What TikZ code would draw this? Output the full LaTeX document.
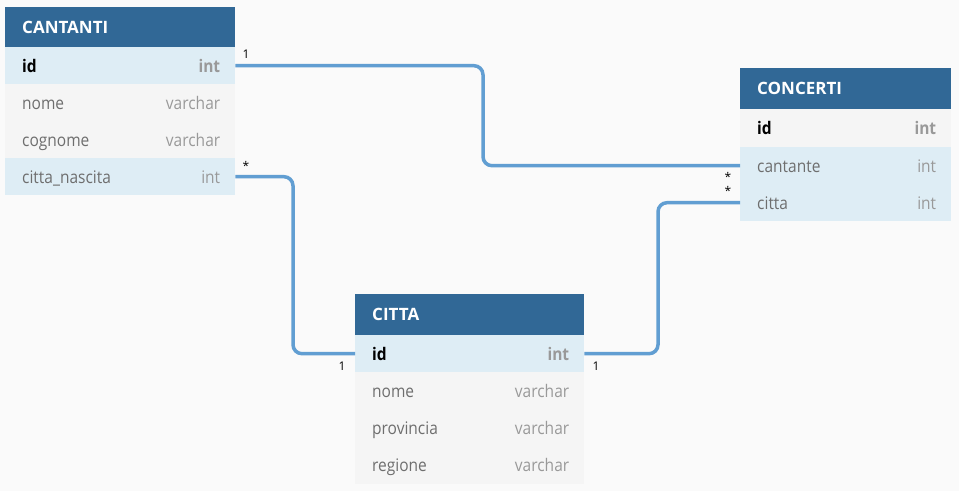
\documentclass[tikz,border=0pt]{standalone}
\usepackage{fontspec}
\setmainfont{Open Sans}
\definecolor{bg}{HTML}{FAFAFA}
\definecolor{hdrc}{HTML}{316896}
\definecolor{rowblue}{HTML}{DEEDF5}
\definecolor{rowgray}{HTML}{F5F5F5}
\definecolor{connc}{HTML}{619ED2}
\definecolor{namec}{HTML}{6E6E6E}
\definecolor{typec}{HTML}{999999}
\newcommand{\tl}[1]{\scalebox{1}[1.12]{#1}}
\begin{document}
\begin{tikzpicture}[x=1pt,y=-1pt,
  hdr/.style={fill=hdrc, draw=none, minimum height=40pt, anchor=north west, inner sep=0pt},
  rb/.style={fill=rowblue, draw=none, minimum height=37pt, anchor=north west, inner sep=0pt},
  rg/.style={fill=rowgray, draw=none, minimum height=37pt, anchor=north west, inner sep=0pt},
  htxt/.style={anchor=base west, text=white, font=\fontsize{17}{20}\selectfont\bfseries, inner sep=0pt},
  nm/.style={anchor=base west, text=namec, font=\fontsize{15.5}{18}\selectfont, inner sep=0pt},
  nmk/.style={anchor=base west, text=black, font=\fontsize{15.5}{18}\selectfont\bfseries, inner sep=0pt},
  ty/.style={anchor=base east, text=typec, font=\fontsize{15.5}{18}\selectfont, inner sep=0pt},
  tyk/.style={anchor=base east, text=typec, font=\fontsize{15.5}{18}\selectfont\bfseries, inner sep=0pt},
  card/.style={text=black, font=\fontsize{12}{14}\selectfont, inner sep=0pt},
  conn/.style={draw=connc, line width=3.5pt, rounded corners=9pt}
]
\fill[bg] (0,0) rectangle (959,491);
\useasboundingbox (0,0) rectangle (959,491);

% CANTANTI
\node[hdr, minimum width=230pt] (canH) at (5,7) {};
\node[htxt] (canHt) at ([xshift=17pt,yshift=-26pt]canH.north west) {CANTANTI};
\node[rb, minimum width=230pt] (canId) at (5,47) {};
\node[rg, minimum width=230pt] (canNome) at (5,84) {};
\node[rg, minimum width=230pt] (canCog) at (5,121) {};
\node[rb, minimum width=230pt] (canCit) at (5,158) {};
\node[nmk] (t1) at ([xshift=17pt,yshift=-25pt]canId.north west) {\tl{id}};
\node[tyk] (t2) at ([xshift=-15pt,yshift=-25pt]canId.north east) {\tl{int}};
\node[nm] (t3) at ([xshift=17pt,yshift=-25pt]canNome.north west) {\tl{nome}};
\node[ty] (t4) at ([xshift=-15pt,yshift=-25pt]canNome.north east) {\tl{varchar}};
\node[nm] (t5) at ([xshift=17pt,yshift=-25pt]canCog.north west) {\tl{cognome}};
\node[ty] (t6) at ([xshift=-15pt,yshift=-25pt]canCog.north east) {\tl{varchar}};
\node[nm] (t7) at ([xshift=17pt,yshift=-25pt]canCit.north west) {\tl{citta\_nascita}};
\node[ty] (t8) at ([xshift=-15pt,yshift=-25pt]canCit.north east) {\tl{int}};

% CONCERTI
\node[hdr, minimum width=211pt, minimum height=41pt] (conH) at (740,68) {};
\node[htxt] (conHt) at ([xshift=17pt,yshift=-26pt]conH.north west) {CONCERTI};
\node[rg, minimum width=211pt, minimum height=38pt] (conId) at (740,109) {};
\node[rb, minimum width=211pt] (conCant) at (740,147) {};
\node[rb, minimum width=211pt] (conCit) at (740,184) {};
\node[nmk] (u1) at ([xshift=17pt,yshift=-25pt]conId.north west) {\tl{id}};
\node[tyk] (u2) at ([xshift=-15pt,yshift=-25pt]conId.north east) {\tl{int}};
\node[nm] (u3) at ([xshift=17pt,yshift=-25pt]conCant.north west) {\tl{cantante}};
\node[ty] (u4) at ([xshift=-15pt,yshift=-25pt]conCant.north east) {\tl{int}};
\node[nm] (u5) at ([xshift=17pt,yshift=-25pt]conCit.north west) {\tl{citta}};
\node[ty] (u6) at ([xshift=-15pt,yshift=-25pt]conCit.north east) {\tl{int}};

% CITTA
\node[hdr, minimum width=229pt, minimum height=41pt] (citH) at (355,294) {};
\node[htxt] (citHt) at ([xshift=17pt,yshift=-26pt]citH.north west) {CITTA};
\node[rb, minimum width=229pt] (citId) at (355,335) {};
\node[rg, minimum width=229pt] (citNome) at (355,372) {};
\node[rg, minimum width=229pt] (citProv) at (355,409) {};
\node[rg, minimum width=229pt, minimum height=38pt] (citReg) at (355,446) {};
\node[nmk] (v1) at ([xshift=17pt,yshift=-25pt]citId.north west) {\tl{id}};
\node[tyk] (v2) at ([xshift=-15pt,yshift=-25pt]citId.north east) {\tl{int}};
\node[nm] (v3) at ([xshift=17pt,yshift=-25pt]citNome.north west) {\tl{nome}};
\node[ty] (v4) at ([xshift=-15pt,yshift=-25pt]citNome.north east) {\tl{varchar}};
\node[nm] (v5) at ([xshift=17pt,yshift=-25pt]citProv.north west) {\tl{provincia}};
\node[ty] (v6) at ([xshift=-15pt,yshift=-25pt]citProv.north east) {\tl{varchar}};
\node[nm] (v7) at ([xshift=17pt,yshift=-25pt]citReg.north west) {\tl{regione}};
\node[ty] (v8) at ([xshift=-15pt,yshift=-25pt]citReg.north east) {\tl{varchar}};

% connectors
\coordinate (b1) at (483,0);
\coordinate (b2) at (293,0);
\coordinate (b3) at (658,0);
\draw[conn] (canId.east) -| (b1 |- conCant.west) -- (conCant.west);
\draw[conn] (canCit.east) -| (b2 |- citId.west) -- (citId.west);
\draw[conn] (citId.east) -| (b3 |- conCit.west) -- (conCit.west);

% cardinalities
\node[card] (c1) at (246,54) {1};
\node[card] (c2) at (246,166) {*};
\node[card] (c3) at (728,177) {*};
\node[card] (c4) at (728,191) {*};
\node[card] (c5) at (342,366) {1};
\node[card] (c6) at (596,366) {1};
\end{tikzpicture}
\end{document}
